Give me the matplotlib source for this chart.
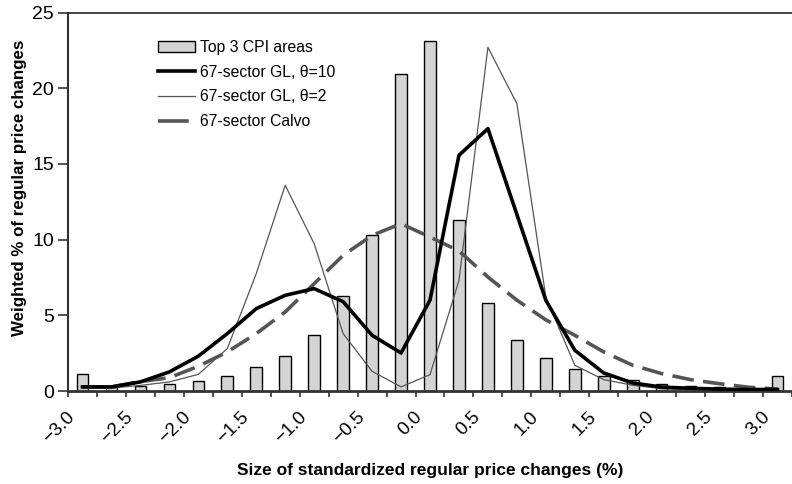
import matplotlib
matplotlib.use("Agg")
import matplotlib.pyplot as plt
import matplotlib.patches as mpatches
import matplotlib.transforms as mtransforms
from matplotlib.lines import Line2D

# Kategorien: Groesse der standardisierten Preisänderungen (%)
size_bins = [-3.0, -2.75, -2.5, -2.25, -2.0, -1.75, -1.5, -1.25, -1.0, -0.75, -0.5, -0.25,
             0.0, 0.25, 0.5, 0.75, 1.0, 1.25, 1.5, 1.75, 2.0, 2.25, 2.5, 2.75, 3.0]
tick_labels = ["\u22123.0", "\u22122.5", "\u22122.0", "\u22121.5", "\u22121.0", "\u22120.5",
               "0.0", "0.5", "1.0", "1.5", "2.0", "2.5", "3.0"]

# Top 3 CPI areas (Balken)
cpi_share = [1.15, 0.27, 0.35, 0.49, 0.69, 0.97, 1.57, 2.29, 3.68, 6.26, 10.33, 20.96,
             23.1, 11.27, 5.84, 3.35, 2.16, 1.43, 0.97, 0.7, 0.49, 0.35, 0.27, 0.15, 0.97]

# Modell-Linien
gl_theta10 = [0.27, 0.27, 0.6, 1.26, 2.3, 3.79, 5.44, 6.32, 6.76, 5.9, 3.68, 2.51,
              6.0, 15.57, 17.33, 11.66, 5.99, 2.69, 1.19, 0.53, 0.26, 0.18, 0.12, 0.1, 0.1]
gl_theta2 = [0.2, 0.2, 0.37, 0.6, 1.1, 2.8, 7.75, 13.59, 9.73, 3.79, 1.3, 0.27,
             1.08, 7.3, 22.7, 18.98, 6.2, 1.7, 0.75, 0.38, 0.15, 0.08, 0.05, 0.03, 0.02]
calvo = [0.27, 0.27, 0.62, 0.88, 1.63, 2.58, 3.79, 5.22, 7.09, 8.96, 10.28, 11.05,
         10.17, 9.25, 7.53, 6.0, 4.7, 3.68, 2.58, 1.7, 1.15, 0.75, 0.48, 0.25, 0.12]

plt.rcParams["font.family"] = ["Liberation Sans", "DejaVu Sans"]

fig = plt.figure(figsize=(7.92, 4.84), dpi=100)
ax = fig.add_axes([68 / 792, 1 - 391 / 484, 1 - 68 / 792, (391 - 12.5) / 484])

pos = list(range(len(size_bins)))

ax.bar(pos, cpi_share, width=0.4, color="#d4d4d4", edgecolor="black", linewidth=1.0, zorder=2)
ax.plot(pos, gl_theta2, color="#555555", linewidth=0.9, zorder=3)
ax.plot(pos, calvo, color="#555555", linewidth=2.6, dashes=(6, 2.6), zorder=3)
ax.plot(pos, gl_theta10, color="black", linewidth=2.6, zorder=4)

ax.set_xlim(-0.5, len(size_bins) - 0.5)
ax.set_ylim(0, 25)
ax.set_yticks([0, 5, 10, 15, 20, 25])

# Ticks zwischen den Kategorien, Beschriftung jede zweite Kategorie
ax.set_xticks([p - 0.5 for p in pos] + [len(pos) - 0.5])
ax.set_xticklabels([])
ax.set_xticks(pos[::2], minor=True)
ax.set_xticklabels(tick_labels, minor=True, rotation=45, ha="right", va="top", fontsize=13.5)
ax.tick_params(axis="x", which="minor", length=0, pad=12.5)
ax.tick_params(axis="x", which="major", length=4.5, width=1.2, color="#333333", direction="out")
ax.tick_params(axis="y", length=7, width=1.2, color="#333333", labelsize=14, pad=3)

# Beschriftungen etwas nach links schieben wie im Original
shift = mtransforms.ScaledTranslation(-4 / 100, 0, fig.dpi_scale_trans)
for lbl in ax.get_xticklabels(minor=True):
    lbl.set_transform(lbl.get_transform() + shift)

ax.spines["right"].set_visible(False)
ax.spines["top"].set_color("#222222")
ax.spines["top"].set_linewidth(1.2)
ax.spines["left"].set_color("#333333")
ax.spines["left"].set_linewidth(1.5)
ax.spines["bottom"].set_color("#333333")
ax.spines["bottom"].set_linewidth(2.0)

ax.set_xlabel("Size of standardized regular price changes (%)", fontsize=12.5,
              fontweight="bold", va="top")
ax.xaxis.set_label_coords(0.5, -(463 - 391) / 378.5)
ax.set_ylabel("Weighted % of regular price changes", fontsize=12.2, fontweight="bold")
ax.yaxis.set_label_coords(-(68 - 27) / 724, (391 - 187.5) / 378.5)

handles = [
    mpatches.Patch(facecolor="#d4d4d4", edgecolor="black", linewidth=1.0),
    Line2D([], [], color="black", linewidth=2.6),
    Line2D([], [], color="#555555", linewidth=0.9),
    Line2D([], [], color="#555555", linewidth=2.6, dashes=(8.5, 6)),
]
labels = ["Top 3 CPI areas", "67-sector GL, \u03b8=10", "67-sector GL, \u03b8=2",
          "67-sector Calvo"]
ax.legend(handles, labels, loc="upper left", bbox_to_anchor=(0.105, 0.965), frameon=False,
          fontsize=11.3, handlelength=2.35, handletextpad=0.3, labelspacing=0.62)

fig.savefig("out.png", dpi=100)
